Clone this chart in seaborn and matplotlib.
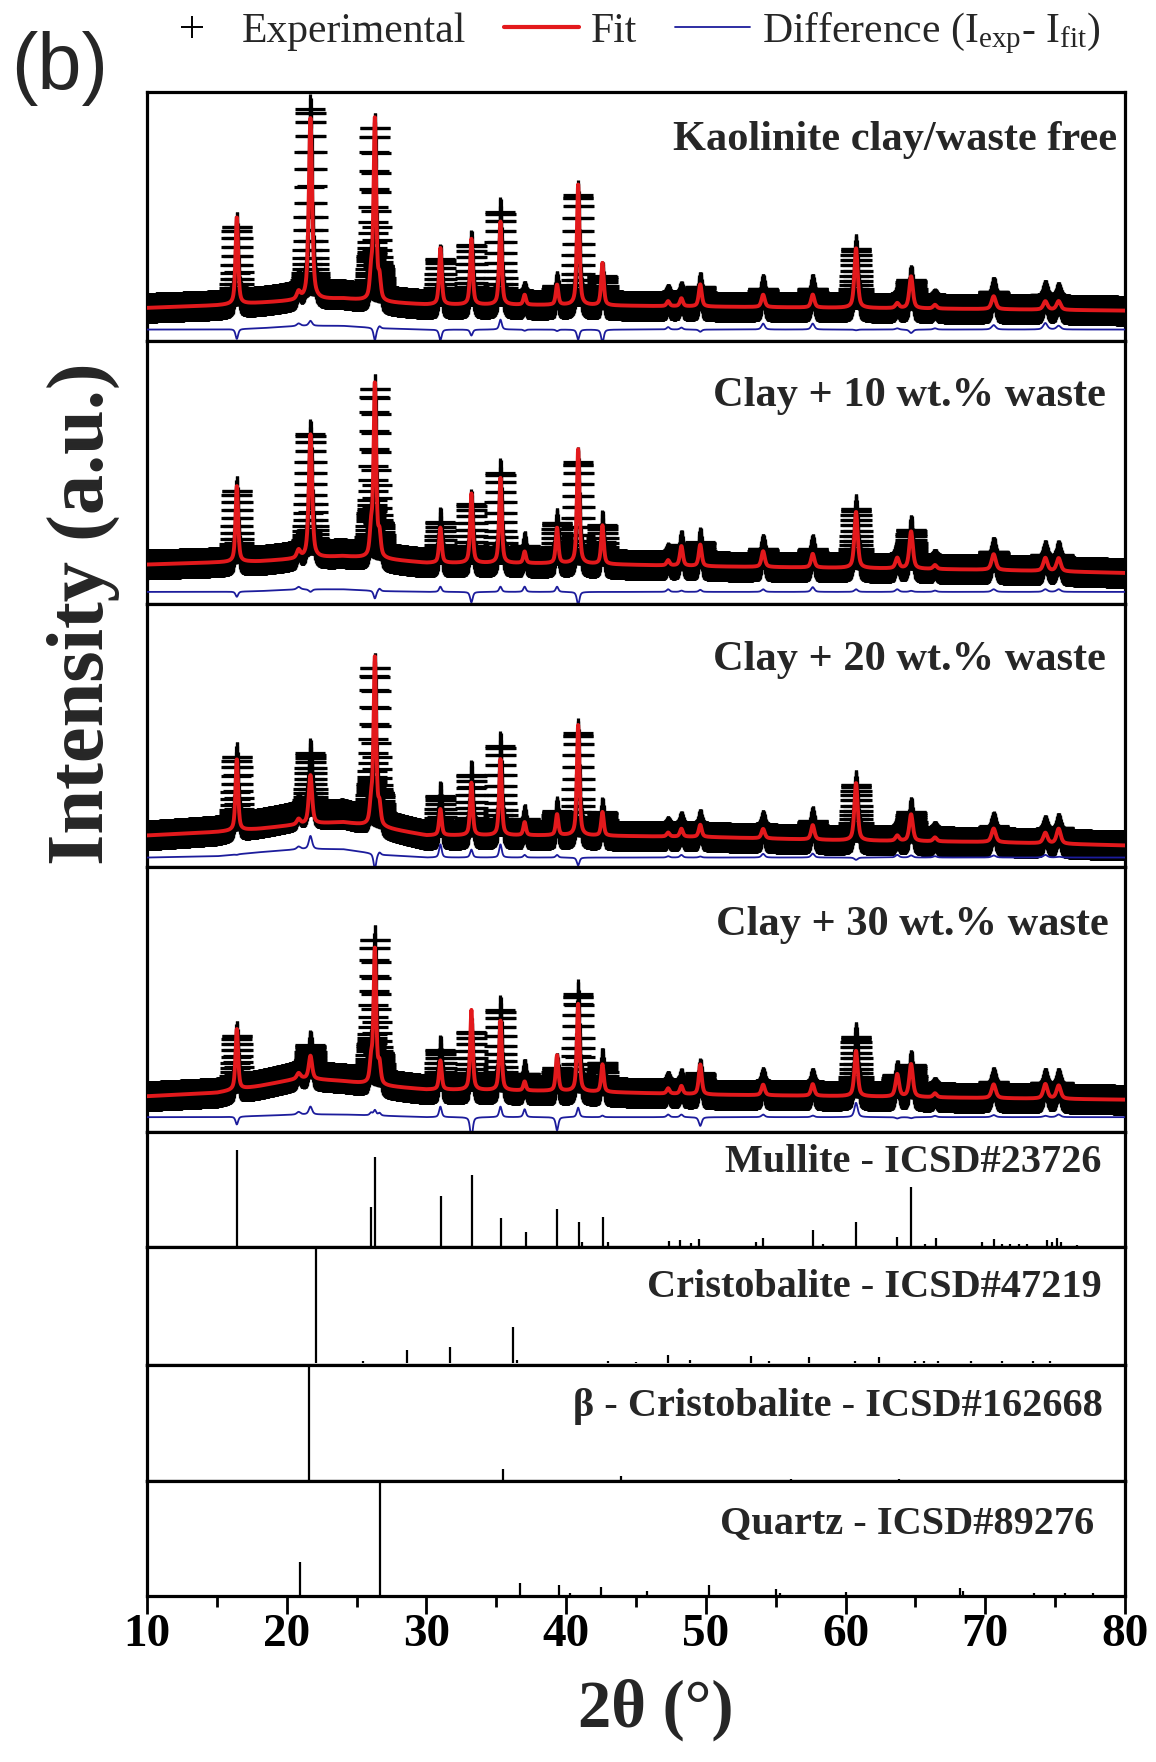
import os
import glob
import numpy as np
import pandas as pd
import matplotlib
matplotlib.use("Agg")
import matplotlib.pyplot as plt
import matplotlib.font_manager as fm
from matplotlib.lines import Line2D
from matplotlib.ticker import MultipleLocator
import seaborn as sns

# ---------------- data ----------------
two_theta_min, two_theta_max, two_theta_step = 10.0, 80.0, 0.02

# shared reflection list used by the refinement
peak_pos = [16.43, 20.85, 21.70, 26.04, 26.31, 26.64, 31.00, 33.22, 35.30, 37.03,
            39.35, 40.86, 42.60, 47.30, 48.25, 49.60, 54.10, 57.65, 60.75, 63.70,
            64.69, 66.40, 70.60, 74.30, 75.25]
peak_fwhm = [0.22, 0.30, 0.28, 0.22, 0.22, 0.22, 0.22, 0.22, 0.22, 0.22,
             0.22, 0.22, 0.22, 0.25, 0.25, 0.25, 0.28, 0.28, 0.28, 0.30,
             0.30, 0.30, 0.35, 0.35, 0.35]

sample_names = ["Kaolinite clay/waste free", "Clay + 10 wt.% waste",
                "Clay + 20 wt.% waste", "Clay + 30 wt.% waste"]

# peak heights above background (% of panel height)
fit_free = [35, 3, 73, 10, 73, 8, 22.7, 26.4, 33.4, 4, 8.1, 48.4, 17, 2, 3.2, 8.9,
            5, 5.2, 24, 2, 12.9, 1.5, 5.2, 3.4, 3.5]
exp_free = [31, 4, 75, 10, 68, 9, 18.4, 24, 37.4, 3.5, 7.5, 44.4, 11.7, 3, 4, 8,
            7.4, 7.6, 23.7, 2.5, 11.5, 2, 7, 6, 5]
fit_10 = [29, 3, 47, 10, 66, 8, 13.4, 26.4, 32.4, 4.4, 13.5, 43.5, 14.7, 2, 7.5, 8.2,
          6, 5.2, 21.4, 4, 14.2, 1.5, 6, 5, 5]
exp_10 = [27, 4, 46, 10, 63, 9, 15.4, 22.4, 34.4, 6.4, 15.5, 38.5, 14.7, 3, 8, 9,
          7, 7, 22.4, 5, 14.6, 2, 7, 6, 6]
fit_20 = [27.2, 2, 18.5, 8, 64, 7, 10, 20, 29, 5, 8, 42, 9, 1.5, 3, 4.6,
          3.6, 5.5, 21.9, 2, 10.2, 1.5, 5.2, 4, 5.7]
exp_20 = [27, 3, 23.5, 8, 58, 8, 15, 23, 34, 6, 9, 39, 9, 2, 4, 5,
          5, 7, 21, 3, 11, 2, 6, 5, 6]
fit_30 = [23, 2, 8.7, 8, 51, 7, 11, 30.2, 26.3, 3.4, 13.5, 33, 10.4, 2, 3, 11.3,
          4, 4.4, 17.2, 8.5, 12.4, 1.5, 5.2, 5.5, 5]
exp_30 = [20, 3, 11.7, 9, 53, 8, 15, 22, 30.3, 6.4, 8.5, 36.6, 11, 3, 4, 8,
          5, 5, 22.6, 8, 12, 2, 6, 6, 6]

# background levels (fit) at anchor angles
bg_x = [10, 15, 18, 21, 24, 27, 30, 40, 50, 60, 70, 80]
bg_free = [13.3, 14.3, 15.3, 16.3, 17.0, 15.5, 14.6, 14.4, 13.8, 13.3, 12.8, 12.2]
bg_10 = [15.0, 15.8, 16.2, 17.2, 18.1, 17.0, 15.6, 15.4, 14.3, 13.7, 13.0, 11.8]
bg_20 = [12.0, 13.3, 14.5, 16.2, 17.0, 14.8, 12.0, 12.0, 11.4, 10.1, 9.5, 8.2]
bg_30 = [13.5, 14.8, 17.3, 20.3, 19.2, 17.3, 16.0, 15.4, 14.1, 13.5, 12.8, 12.2]
# extra amorphous intensity in the measured pattern
exc_free = [0, 0, 0.5, 1.5, 1.5, 0.5, 0, 0, 0, 0, 0, 0]
exc_10 = [0, 0, 0.3, 1.0, 1.0, 0.3, 0, 0, 0, 0, 0, 0]
exc_20 = [0, 0.5, 2.0, 3.2, 3.2, 1.0, 0, 0, 0, 0, 0, 0]
exc_30 = [0, 0, 0.5, 1.0, 1.0, 0.5, 0, 0, 0, 0, 0, 0]
diff_offset = [4.6, 4.6, 3.6, 5.6]

# reference stick patterns (relative intensity)
mullite_pos = [16.43, 26.04, 26.31, 31.04, 33.25, 35.36, 37.12, 39.33, 40.95, 41.10,
               42.62, 42.98, 47.35, 48.16, 48.97, 49.50, 53.56, 54.10, 57.70, 58.40,
               60.77, 63.65, 64.69, 65.70, 66.45, 69.80, 70.60, 71.20, 71.80, 72.40,
               73.00, 74.40, 74.80, 75.10, 75.40, 76.60]
mullite_int = [100, 41, 93, 52, 74, 29, 14, 38, 25, 4,
               30, 4, 5, 6, 3, 7, 4, 8, 17, 2,
               25, 9, 62, 2, 8, 4, 7, 2, 2, 2,
               2, 6, 4, 8, 4, 1]
cristo_pos = [22.07, 25.45, 28.60, 31.67, 36.20, 36.45, 43.00, 45.00, 47.30, 48.90,
              53.20, 54.50, 57.40, 60.65, 62.40, 65.00, 65.60, 66.60, 69.00, 71.20, 73.40, 74.60]
cristo_int = [100, 2, 11.5, 14, 31, 3, 2, 1.5, 7, 3,
              6, 2, 5, 2, 5, 2, 2, 2, 2, 2, 2, 2]
beta_pos = [21.58, 35.50, 43.90, 56.10, 63.80]
beta_int = [100, 9.5, 3.5, 1, 1]
quartz_pos = [20.95, 26.67, 36.67, 39.50, 40.30, 42.48, 45.80, 50.20, 55.00, 55.30,
              60.00, 68.20, 68.40, 73.50, 75.70, 77.70]
quartz_int = [29, 100, 10, 8.5, 2, 7, 3, 8.5, 5, 2,
              2.5, 6, 3, 2, 2, 1.5]
ref_names = ["Mullite - ICSD#23726", "Cristobalite - ICSD#47219",
             "β - Cristobalite - ICSD#162668", "Quartz - ICSD#89276"]

x_ticks = [10, 20, 30, 40, 50, 60, 70, 80]
legend_labels = ["Experimental", "Fit", r"Difference ($\mathregular{I_{exp}}$- $\mathregular{I_{fit}}$)"]

# ---------------- fonts ----------------
for pat in ["/usr/share/fonts/**/*iberation*.ttf", "/usr/local/share/fonts/**/*iberation*.ttf"]:
    for f in glob.glob(pat, recursive=True):
        try:
            fm.fontManager.addfont(f)
        except Exception:
            pass
names = {fe.name for fe in fm.fontManager.ttflist}
SERIF = "Liberation Serif" if "Liberation Serif" in names else "DejaVu Serif"
SANS = "Liberation Sans" if "Liberation Sans" in names else "DejaVu Sans"

# ---------------- styling ----------------
sns.set_theme(style="white")
plt.rcParams["font.family"] = [SERIF, "DejaVu Serif"]
plt.rcParams["mathtext.fontset"] = "custom"
plt.rcParams["mathtext.rm"] = SERIF
plt.rcParams["mathtext.it"] = SERIF + ":italic"
plt.rcParams["axes.edgecolor"] = "black"

RED = "#e3191c"
NAVY = "#1c1c9c"

fig = plt.figure(figsize=(11.56, 17.62), dpi=100)
bounds_px = [92, 341, 604, 867, 1132, 1247, 1365, 1481, 1596]
H, W = 1762.0, 1156.0
left, right = 147 / W, 1125 / W
axes = []
for i in range(8):
    top_px, bot_px = bounds_px[i], bounds_px[i + 1]
    ax = fig.add_axes([left, 1 - bot_px / H, right - left, (bot_px - top_px) / H])
    axes.append(ax)


def pv_profile(x, pos, fwhm, heights, eta=0.6):
    y = np.zeros_like(x)
    for p, w, h in zip(pos, fwhm, heights):
        hw = w / 2.0
        lor = 1.0 / (1.0 + ((x - p) / hw) ** 2)
        gau = np.exp(-np.log(2) * ((x - p) / hw) ** 2)
        y += h * (eta * lor + (1 - eta) * gau)
    return y


tt = np.arange(two_theta_min, two_theta_max + 1e-9, two_theta_step)
fits = [fit_free, fit_10, fit_20, fit_30]
exps = [exp_free, exp_10, exp_20, exp_30]
bgs = [bg_free, bg_10, bg_20, bg_30]
excs = [exc_free, exc_10, exc_20, exc_30]
txt_pos = [(0.992, 0.807), (0.980, 0.791), (0.980, 0.787), (0.983, 0.781)]

for i in range(4):
    ax = axes[i]
    bg = np.interp(tt, bg_x, bgs[i])
    fit = bg + pv_profile(tt, peak_pos, peak_fwhm, fits[i])
    exp = bg + np.interp(tt, bg_x, excs[i]) + pv_profile(tt, peak_pos, peak_fwhm, exps[i])
    diff = exp - fit + diff_offset[i]
    df = pd.DataFrame({"tt": tt, "exp": exp, "fit": fit, "diff": diff})
    sns.scatterplot(data=df, x="tt", y="exp", marker="+", s=460, color="black",
                    linewidth=2.3, ax=ax, legend=False, zorder=2)
    sns.lineplot(data=df, x="tt", y="diff", color=NAVY, lw=1.3, ax=ax,
                 estimator=None, sort=False, zorder=3)
    sns.lineplot(data=df, x="tt", y="fit", color=RED, lw=2.8, ax=ax,
                 estimator=None, sort=False, zorder=4)
    ax.set_ylim(0, 100)
    ax.text(txt_pos[i][0], txt_pos[i][1], sample_names[i], transform=ax.transAxes,
            ha="right", va="center", fontsize=30.5, fontweight="bold", zorder=5)

refs = [(mullite_pos, mullite_int, (-1.2, 119)), (cristo_pos, cristo_int, (-1.5, 100)),
        (beta_pos, beta_int, (-1.0, 100)), (quartz_pos, quartz_int, (-1.0, 100))]
ref_txt = [(0.976, 0.739), (0.976, 0.653), (0.977, 0.638), (0.969, 0.626)]
for j, (pos, inten, yl) in enumerate(refs):
    ax = axes[4 + j]
    ax.vlines(pos, 0, inten, color="black", lw=1.6)
    ax.set_ylim(*yl)
    ax.text(ref_txt[j][0], ref_txt[j][1], ref_names[j], transform=ax.transAxes,
            ha="right", va="center", fontsize=29, fontweight="bold")

for ax in axes:
    ax.set_xlim(two_theta_min, two_theta_max)
    ax.set_xlabel("")
    ax.set_ylabel("")
    ax.set_yticks([])
    for s in ax.spines.values():
        s.set_linewidth(2.3)
        s.set_color("black")
    ax.tick_params(bottom=False, labelbottom=False, left=False, labelleft=False)

axb = axes[-1]
axb.set_xticks(x_ticks)
axb.xaxis.set_minor_locator(MultipleLocator(5))
axb.tick_params(axis="x", which="both", bottom=True, labelbottom=True, direction="out",
                width=2.0, colors="black")
axb.tick_params(axis="x", which="major", length=13, labelsize=34, pad=0)
axb.tick_params(axis="x", which="minor", length=8)
for lab in axb.get_xticklabels():
    lab.set_fontweight("bold")
axb.set_xlabel("2θ (°)", fontsize=48, fontweight="bold")
axb.xaxis.set_label_coords(0.52, -0.72)

fig.text(83 / W, 1 - 614 / H, "Intensity (a.u.)", rotation=90, ha="center", va="center",
         fontsize=58, fontweight="bold")
fig.text(11 / W, 1 - 68 / H, "(b)", ha="left", va="center", fontsize=57,
         family=[SANS, "DejaVu Sans"])

handles = [Line2D([], [], ls="none", marker="+", color="black", markersize=16, mew=1.4),
           Line2D([], [], color=RED, lw=3.0),
           Line2D([], [], color=NAVY, lw=1.3)]
fig.legend(handles, legend_labels, loc="center", bbox_to_anchor=(0.543, 1 - 33 / H), ncol=3,
           frameon=False, fontsize=30, handlelength=1.8, handletextpad=0.3,
           columnspacing=0.9, borderaxespad=0)

fig.savefig("out.png", dpi=100, facecolor="white")
